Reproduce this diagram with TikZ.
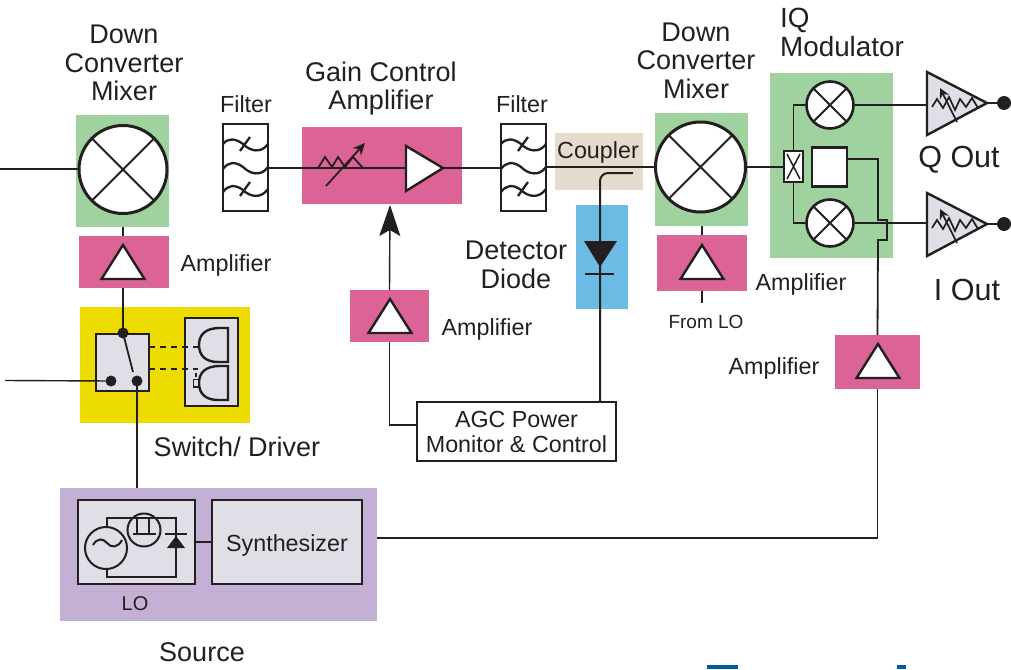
\documentclass[tikz,border=0pt]{standalone}
\usepackage{fontspec}
\setmainfont{Liberation Sans}
\usetikzlibrary{arrows.meta}
\definecolor{mixgreen}{HTML}{9FD29E}
\definecolor{amppink}{HTML}{DC6395}
\definecolor{swyellow}{HTML}{EDDC00}
\definecolor{srcpurple}{HTML}{C5B0D5}
\definecolor{detblue}{HTML}{6BBBE4}
\definecolor{cplbeige}{HTML}{E6DCCE}
\definecolor{panelgrey}{HTML}{E0DEE6}
\definecolor{inkdark}{HTML}{231F20}
\definecolor{logoblue}{HTML}{005C9C}
\tikzset{
  wire/.style={draw=inkdark,line width=1.4pt},
  heavywire/.style={draw=inkdark,line width=2.4pt},
  back/.style={inner sep=0pt,outer sep=0pt,minimum width=#1},
  panel/.style={draw=inkdark,fill=panelgrey,line width=2.6pt,inner sep=0pt,outer sep=0pt},
  mixer/.style={circle,draw=inkdark,fill=white,line width=#1,inner sep=0pt,outer sep=0pt,
    path picture={\draw[inkdark,line width=1.8pt] (path picture bounding box.north west) -- (path picture bounding box.south east)
      (path picture bounding box.north east) -- (path picture bounding box.south west);}},
  wiredot/.style={circle,fill=inkdark,inner sep=0pt,outer sep=0pt,minimum size=#1},
  filterbox/.style={draw=inkdark,fill=white,line width=2.8pt,inner sep=0pt,outer sep=0pt,minimum width=45pt,minimum height=87pt},
  biglabel/.style={font=\fontsize{27}{28.5}\selectfont,text=inkdark,align=center,inner sep=0pt},
  midlabel/.style={font=\fontsize{23.3}{25}\selectfont,text=inkdark,align=center,inner sep=0pt},
  smalllabel/.style={font=\fontsize{19}{21}\selectfont,text=inkdark,align=center,inner sep=0pt},
  ampfill/.style={draw=inkdark,fill=white,line width=2.4pt,line join=miter}
}
\begin{document}
\begin{tikzpicture}[x=1pt,y=-1pt]
\useasboundingbox (0,0) rectangle (1011,669);
% coloured backgrounds
\node[back=93pt,fill=mixgreen,minimum height=112pt] (greena) at (122.5,171) {};
\node[back=93pt,fill=mixgreen,minimum height=113pt] (greenb) at (701.5,169.5) {};
\node[back=123pt,fill=mixgreen,minimum height=185pt] (greeniq) at (831.5,165.5) {};
\node[back=90pt,fill=amppink,minimum height=52pt] (ampa) at (124,262) {};
\node[back=160pt,fill=amppink,minimum height=77pt] (gainbox) at (382,165.5) {};
\node[back=79pt,fill=amppink,minimum height=52pt] (ampb) at (389.5,316) {};
\node[back=90pt,fill=amppink,minimum height=56pt] (ampc) at (702,263) {};
\node[back=85pt,fill=amppink,minimum height=54pt] (ampd) at (877.5,362) {};
\node[back=170pt,fill=swyellow,minimum height=116pt] (swback) at (165,365) {};
\node[back=317pt,fill=srcpurple,minimum height=133pt] (srcbox) at (218.5,554.5) {};
\node[back=88pt,fill=cplbeige,minimum height=57pt] (cplback) at (599,161.5) {};
\node[back=52pt,fill=detblue,minimum height=104pt] (detback) at (602,257) {};
% logo edge at the bottom
\fill[logoblue] (707,665) rectangle (738,669);
\fill[logoblue] (897,665) rectangle (906,669);
% free ends of the wires
\coordinate (rfin) at (0,169);
\coordinate (swin) at (5,380.5);
\coordinate (gainin) at (406,168);
\coordinate (gainout) at (443,168);
\coordinate (gainctl) at (390,205);
\coordinate (tapend) at (633,173);
\coordinate (tapdown) at (600,402);
\coordinate (srcout) at (377,538);
\coordinate (qin) at (927,105);
\coordinate (qtip) at (987,103);
\coordinate (iin) at (927,223);
\coordinate (itip) at (987,224);
\coordinate (loout) at (702,303);
% wires under the blocks
\draw[wire] (rfin) -- (123,169);
\draw[wire] (245,168) -- (gainin);
\draw[wire] (gainout) -- (522,168);
\draw[wire] (523,167) -- (700,167) -- (792,167);
\draw[heavywire] (123,288) -- (123,333);
\draw[wire,line width=1.8pt] (123,227) -- (123,236);
\draw[wire,line width=1.8pt] (702,226) -- (702,235);
\draw[wire,line width=1.8pt] (ampc.south) -- (loout);
\draw[heavywire,line width=2pt,rounded corners=8pt] (tapend) -| (tapdown);
\draw[wire,-{Stealth[length=31pt,width=21pt,inset=6pt]}] (ampb.north) -- (gainctl);
% mixers and filters
\node[mixer=3pt,minimum size=88pt] (mixera) at (123,169.5) {};
\node[mixer=3pt,minimum size=90pt] (mixerb) at (700.5,167) {};
\node[filterbox] (filtera) at (245.5,167.5) {};
\node[filterbox] (filterb) at (523.5,167.5) {};
\foreach \fx in {223,501} {
  \begin{scope}[shift={(\fx,124)},line width=2.3pt,inkdark]
    \draw (0,20) .. controls (5,14) and (12,14) .. (20,20) .. controls (27,27) and (38,30) .. (45,20);
    \draw (0,45) .. controls (5,38) and (12,37) .. (20,43) .. controls (27,50) and (38,53) .. (45,43);
    \draw (0,68) .. controls (5,61) and (12,60) .. (20,66) .. controls (27,73) and (38,75) .. (45,65);
    \draw (17,27) -- (27,13);
    \draw (17,72) -- (27,58);
  \end{scope}
}
% gain control amplifier
\draw[wire,line width=1.8pt] (318,168) -- (325,157) -- (332,167) -- (338,157) -- (345,167) -- (353,157) -- (363,168);
\draw[wire,line width=1.8pt,-{Stealth[length=12pt,width=11pt]}] (326,186) -- (365,143);
\draw[ampfill] (gainin) -- (406,146) -- (gainout) -- (406,191) -- cycle;
% the four small amplifiers
\foreach \tx/\ty in {123/245,390/299,702/245,878/344}
  \draw[ampfill] (\tx,\ty) -- ++(21.5,34) -- ++(-43,0) -- cycle;
% detector diode
\fill[inkdark] (584,241) -- (617,241) -- (600,267) -- cycle;
\draw[wire] (585,274) -- (614,274);
% switch
\node[panel,minimum width=53pt,minimum height=57pt] (swbox) at (122.5,362.5) {};
\node[panel,minimum width=53pt,minimum height=88pt] (drvbox) at (211.5,362) {};
\node[wiredot=11pt] (swtop) at (123,333) {};
\node[wiredot=11pt] (swl) at (111,381) {};
\node[wiredot=11pt] (swr) at (137,381) {};
\draw[wire] (swin) -- (swl);
\draw[heavywire] (swr.center) -- (swr |- srcbox.north);
\draw[wire,line width=1.8pt] (swtop.center) -- (133,372);
\draw[wire,dashed,dash pattern=on 6pt off 5pt] (149,347) -- (198,347);
\draw[wire,dashed,dash pattern=on 6pt off 5pt] (149,369) -- (198,369);
\draw[heavywire] (228,328) -- (228,362) -- (218,362) .. controls (205,362) and (199,355) .. (199,345) .. controls (199,335) and (205,328) .. (220,328) -- cycle;
\draw[heavywire] (228,366) -- (228,400) -- (218,400) .. controls (205,400) and (199,393) .. (199,383) .. controls (199,373) and (205,366) .. (220,366) -- cycle;
\draw[wire,fill=panelgrey] (193.5,379.5) rectangle (199,387);
\draw[wire] (196,373) -- (196,377);
% source
\node[panel,minimum width=117pt,minimum height=84pt] (lobox) at (136.5,542) {};
\node[panel,minimum width=150pt,minimum height=84pt] (synth) at (287,542) {};
\node[midlabel] (synthtxt) at (287,545) {Synthesizer};
\draw[wire] (lobox.east) -- (synth.west);
\draw[wire,line width=1.8pt] (107,527) -- (107,518) -- (176,518) -- (176,577) -- (107,577) -- (107,569);
\node[circle,draw=inkdark,line width=2pt,minimum size=42pt,inner sep=0pt] (osc) at (106,548) {};
\node[circle,draw=inkdark,line width=2pt,minimum size=33pt,inner sep=0pt] (fet) at (144,530) {};
\draw[wire,line width=2pt] (93,545) .. controls (97,538) and (103,538) .. (107,543) .. controls (111,548) and (118,548) .. (122,540);
\draw[wire,line width=1.8pt] (137,518) -- (137,534) (149,518) -- (149,534) (133,534) -- (156,534);
\fill[inkdark] (167,548) -- (185,548) -- (176,536) -- cycle;
\draw[wire,line width=1.8pt] (165,534) -- (187,534);
% AGC block
\node[draw=inkdark,fill=white,line width=1.8pt,minimum width=199pt,minimum height=59pt,inner sep=0pt,outer sep=0pt,midlabel] (agc) at (516.5,431.5) {AGC Power\\Monitor \& Control};
\draw[wire,line width=1.8pt] (ampb.south) |- ([yshift=6.5pt]agc.west);
% IQ modulator
\node[mixer=2.6pt,minimum size=47pt] (mixq) at (830,105) {};
\node[mixer=2.6pt,minimum size=47pt] (mixi) at (830,223) {};
\node[draw=inkdark,fill=white,line width=2.4pt,minimum width=19pt,minimum height=31pt,inner sep=0pt,outer sep=0pt] (split) at (793.5,166.5) {};
\draw[inkdark,line width=1.5pt] (787,154) -- (800,179) (800,154) -- (787,179);
\node[draw=inkdark,fill=white,line width=2.4pt,minimum width=35pt,minimum height=39pt,inner sep=0pt,outer sep=0pt] (iqsq) at (829.5,167) {};
\draw[wire,line width=1.8pt] (split.north) |- (mixq.west);
\draw[wire,line width=1.8pt] (split.south) |- (mixi.west);
\draw[wire] (mixq.east) -- (qin);
\draw[wire] (mixi.east) -- (iin);
\draw[wire,line width=1.8pt] ([yshift=8pt]iqsq.east) -- (878,159) -- (878,220) -- (887,220) -- (887,240) -- (878,240) -- (ampd.north);
\draw[wire,line width=1.8pt] (ampd.south) |- (srcout);
% output amplifiers
\foreach \oy/\tipname/\dotname in {0/qtip/qdot,121/itip/idot} {
  \draw[draw=inkdark,fill=panelgrey,line width=2.4pt] (927,{72+\oy}) -- (987,{103+\oy}) -- (927,{135+\oy}) -- cycle;
  \draw[inkdark,line width=1.7pt] (932,{107+\oy}) -- (937,{99+\oy}) -- (943,{108+\oy}) -- (949,{97+\oy}) -- (955,{110+\oy}) -- (960,{99+\oy}) -- (966,{107+\oy}) -- (972,{98+\oy}) -- (978,{108+\oy});
  \draw[inkdark,line width=1.7pt,-{Stealth[length=10pt,width=10pt]}] (957,{122+\oy}) -- (940,{88+\oy});
  \node[wiredot=14pt] (\dotname) at (1004,{103+\oy}) {};
  \draw[wire] (\tipname) -- (\dotname);
}
% labels
\node[biglabel] (lblmixa) at (124,63) {Down\\Converter\\Mixer};
\node[biglabel] (lblgain) at (381,88.5) {Gain Control\\Amplifier};
\node[biglabel] (lblmixb) at (696,60.5) {Down\\Converter\\Mixer};
\node[biglabel,align=left,anchor=west,font=\fontsize{27.8}{28.5}\selectfont] (lbliq) at (780,32.5) {IQ\\Modulator};
\node[biglabel] (lbldet) at (516,265) {Detector\\Diode};
\node[biglabel] (lblsw) at (237,447) {Switch/ Driver};
\node[biglabel] (lblsrc) at (202,652) {Source};
\node[biglabel,font=\fontsize{30.5}{32}\selectfont] (lblq) at (959,160) {Q Out};
\node[biglabel,font=\fontsize{30.5}{32}\selectfont] (lbli) at (967,290) {I Out};
\node[midlabel] (lblfa) at (246,104) {Filter};
\node[midlabel] (lblfb) at (522,104) {Filter};
\node[midlabel] (lblcpl) at (598,152.5) {Coupler};
\node[midlabel] (lblampa) at (226,265.5) {Amplifier};
\node[midlabel] (lblampb) at (487,329.5) {Amplifier};
\node[midlabel] (lblampc) at (801,284) {Amplifier};
\node[midlabel] (lblampd) at (774,368.5) {Amplifier};
\node[smalllabel] (lblfrom) at (706,322) {From LO};
\node[smalllabel,font=\fontsize{20}{22}\selectfont] (lbllo) at (135,604) {LO};
\end{tikzpicture}
\end{document}
